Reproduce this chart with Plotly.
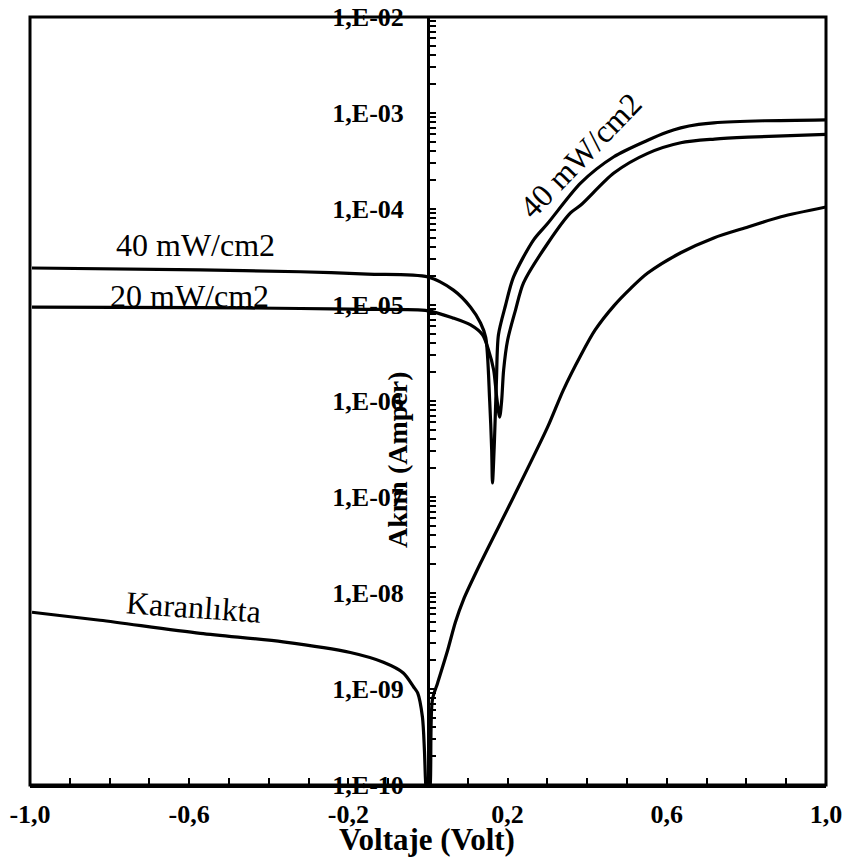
import plotly.graph_objects as go

# ---- data ----
v_dark = [-0.995, -0.824, -0.572, -0.364, -0.195, -0.112, -0.062, -0.036, -0.026, -0.014, -0.009, -0.006,
          0.0, 0.006, 0.011, 0.024, 0.049, 0.069, 0.089, 0.132, 0.215, 0.301, 0.340, 0.384, 0.420, 0.467, 0.510,
          0.552, 0.635, 0.718, 0.804, 0.887, 1.0]
i_dark = [6.3e-9, 5.2e-9, 3.8e-9, 3.1e-9, 2.4e-9, 1.9e-9, 1.47e-9, 1.05e-9, 9.1e-10, 5.1e-10, 2.3e-10, 1.07e-10,
          5e-11, 1.07e-10, 7.7e-10, 1.15e-9, 2.5e-9, 5.0e-9, 8.5e-9, 2.05e-8, 1.0e-7, 5.4e-7, 1.3e-6, 3.0e-6,
          5.5e-6, 9.8e-6, 1.5e-5, 2.15e-5, 3.5e-5, 5.0e-5, 6.5e-5, 8.3e-5, 1.05e-4]

v_40 = [-0.995, -0.572, -0.321, -0.152, 0.0, 0.064, 0.107, 0.132, 0.145, 0.155, 0.160, 0.162, 0.167, 0.172,
        0.177, 0.195, 0.215, 0.265, 0.301, 0.384, 0.467, 0.552, 0.600, 0.635, 0.680, 0.718, 0.844, 1.0]
i_40 = [2.43e-5, 2.32e-5, 2.22e-5, 2.10e-5, 1.96e-5, 1.43e-5, 9.5e-6, 6.5e-6, 4.6e-6, 1.0e-6, 3.1e-7, 1.4e-7,
        3.9e-7, 1.66e-6, 4.9e-6, 1.0e-5, 1.96e-5, 4.75e-5, 7.1e-5, 1.87e-4, 3.5e-4, 5.2e-4, 6.3e-4, 7.0e-4,
        7.6e-4, 7.9e-4, 8.3e-4, 8.5e-4]

v_20 = [-0.995, -0.572, -0.321, -0.152, 0.0, 0.064, 0.107, 0.137, 0.152, 0.165, 0.172, 0.180, 0.185, 0.190,
        0.200, 0.220, 0.240, 0.301, 0.358, 0.384, 0.467, 0.552, 0.635, 0.720, 0.804, 1.0]
i_20 = [9.5e-6, 9.4e-6, 9.2e-6, 9.0e-6, 8.7e-6, 7.3e-6, 6.2e-6, 4.9e-6, 3.4e-6, 2.1e-6, 1.15e-6, 6.8e-7,
        1.0e-6, 2.1e-6, 4.3e-6, 8.9e-6, 1.7e-5, 4.4e-5, 9.1e-5, 1.1e-4, 2.37e-4, 3.8e-4, 4.9e-4, 5.35e-4,
        5.6e-4, 6.0e-4]

x_tick_vals = [-1.0, -0.9, -0.8, -0.7, -0.6, -0.5, -0.4, -0.3, -0.2, -0.1, 0.0,
               0.1, 0.2, 0.3, 0.4, 0.5, 0.6, 0.7, 0.8, 0.9, 1.0]
x_tick_text = ["-1,0", "", "", "", "-0,6", "", "", "", "-0,2", "", "",
               "", "0,2", "", "", "", "0,6", "", "", "", "1,0"]

y_decades = [1e-10, 1e-9, 1e-8, 1e-7, 1e-6, 1e-5, 1e-4, 1e-3, 1e-2]
y_decade_labels = ["1,E-10", "1,E-09", "1,E-08", "1,E-07", "1,E-06", "1,E-05", "1,E-04", "1,E-03", "1,E-02"]

y_tick_vals, y_tick_text = [], []
for d, lab in zip(y_decades, y_decade_labels):
    y_tick_vals.append(d)
    y_tick_text.append(lab)
    if d < 1e-2:
        for m in range(2, 10):
            y_tick_vals.append(m * d)
            y_tick_text.append("")

SERIF = "Liberation Serif, Times New Roman, serif"
line_style = dict(color="black", width=3.2, shape="spline", smoothing=0.8)

fig = go.Figure()
for v, i in [(v_dark, i_dark), (v_20, i_20), (v_40, i_40)]:
    fig.add_trace(go.Scatter(x=v, y=i, mode="lines", line=line_style, showlegend=False,
                             hoverinfo="skip", cliponaxis=True))

fig.update_layout(
    width=844, height=859, autosize=False,
    margin=dict(l=30, r=18, t=17, b=74, autoexpand=False),
    paper_bgcolor="white", plot_bgcolor="white",
    showlegend=False,
    xaxis=dict(range=[-1, 1], domain=[0, 1], showgrid=False, zeroline=False, automargin=False,
               tickmode="array", tickvals=x_tick_vals, ticktext=x_tick_text,
               ticks="inside", ticklen=7, tickwidth=2, tickcolor="black",
               showline=True, linecolor="black", linewidth=3,
               tickfont=dict(family=SERIF, size=26, color="black", weight="bold"),
               ticklabelstandoff=4, ticklabeloverflow="allow"),
    yaxis=dict(type="log", range=[-10, -2], anchor="free", position=0.5,
               showgrid=False, zeroline=False, automargin=False,
               tickmode="array", tickvals=y_tick_vals, ticktext=y_tick_text,
               ticks="inside", ticklen=6, tickwidth=2, tickcolor="black",
               showline=True, linecolor="black", linewidth=3,
               tickfont=dict(family=SERIF, size=26, color="black", weight="bold"),
               ticklabelstandoff=18, ticklabeloverflow="allow"),
    shapes=[dict(type="rect", xref="paper", yref="paper", x0=0, x1=1, y0=0, y1=1,
                 line=dict(color="black", width=3), layer="above")],
)

ann_font = dict(family=SERIF, size=32, color="black")
annotations = [
    dict(x=-0.585, y=-4.37, text="40 mW/cm2", textangle=0),
    dict(x=-0.600, y=-4.91, text="20 mW/cm2", textangle=0),
    dict(x=-0.590, y=-8.15, text="Karanlıkta", textangle=4),
    dict(x=0.384, y=-3.44, text="40 mW/cm2", textangle=-46),
]
for a in annotations:
    fig.add_annotation(x=a["x"], y=a["y"], xref="x", yref="y", text=a["text"],
                       textangle=a["textangle"], showarrow=False, font=ann_font,
                       xanchor="center", yanchor="middle")

fig.add_annotation(x=0.4987, y=-0.0716, xref="paper", yref="paper",
                   text="<b>Voltaje (Volt)</b>", showarrow=False,
                   font=dict(family=SERIF, size=31, color="black"),
                   xanchor="center", yanchor="middle")
fig.add_annotation(x=0.4623, y=0.4245, xref="paper", yref="paper",
                   text="<b>Akım (Amper)</b>", showarrow=False, textangle=-90,
                   font=dict(family=SERIF, size=28, color="black"),
                   xanchor="center", yanchor="middle")

fig.write_html("out.html",
               config={"displayModeBar": False},
               post_script="document.body.style.margin='0';document.body.style.padding='0';"
                           "document.documentElement.style.overflow='hidden';")
